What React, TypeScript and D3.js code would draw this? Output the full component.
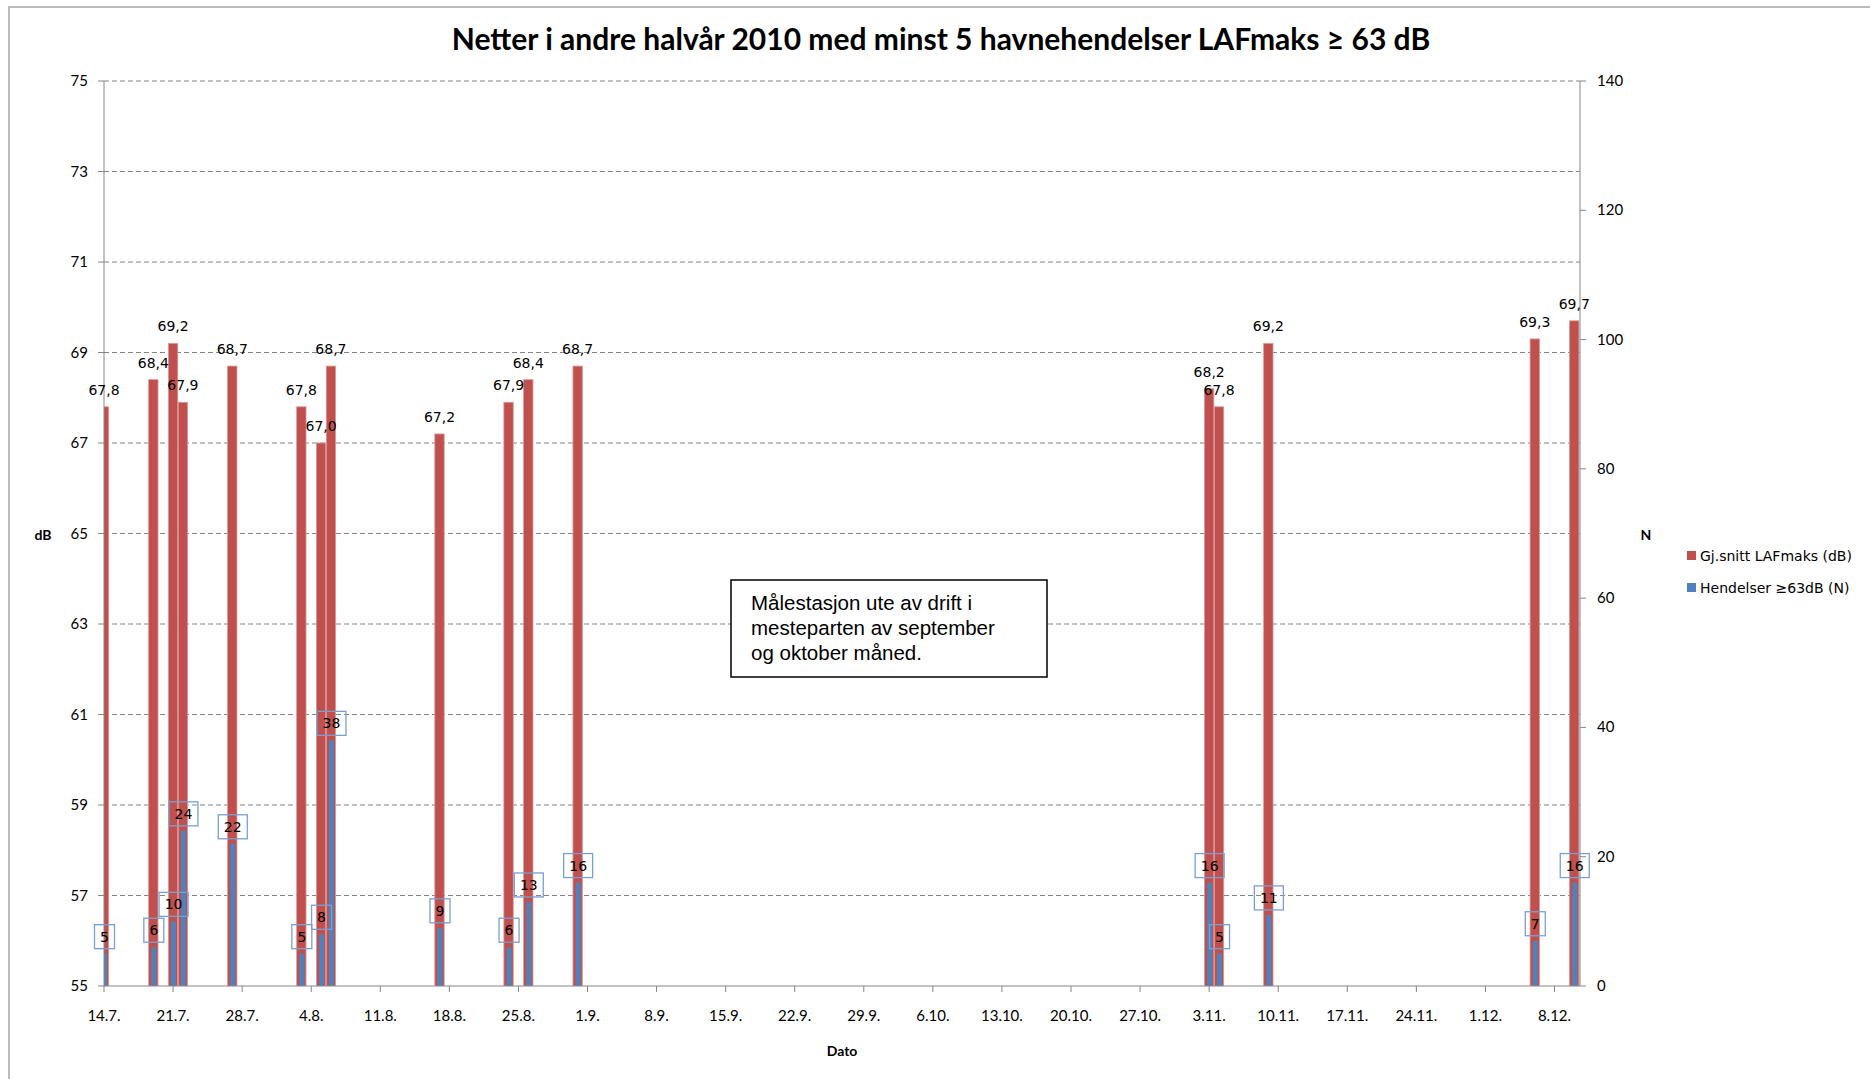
import React from 'react';
import * as d3 from 'd3';

// nights with at least 5 harbour events, second half of 2010
const dates = [
  '14.7.', '19.7.', '21.7.', '22.7.', '27.7.', '3.8.', '5.8.', '6.8.', '17.8.',
  '24.8.', '26.8.', '31.8.', '3.11.', '4.11.', '9.11.', '6.12.', '10.12.',
];
const avgLAFmax = [
  67.8, 68.4, 69.2, 67.9, 68.7, 67.8, 67.0, 68.7, 67.2,
  67.9, 68.4, 68.7, 68.2, 67.8, 69.2, 69.3, 69.7,
];
const events = [5, 6, 10, 24, 22, 5, 8, 38, 9, 6, 13, 16, 16, 5, 11, 7, 16];

const xTickLabels = [
  '14.7.', '21.7.', '28.7.', '4.8.', '11.8.', '18.8.', '25.8.', '1.9.', '8.9.', '15.9.',
  '22.9.', '29.9.', '6.10.', '13.10.', '20.10.', '27.10.', '3.11.', '10.11.', '17.11.',
  '24.11.', '1.12.', '8.12.',
];
const dbTicks = [55, 57, 59, 61, 63, 65, 67, 69, 71, 73, 75];
const nTicks = [0, 20, 40, 60, 80, 100, 120, 140];

const seriesNames = ['Gj.snitt LAFmaks (dB)', 'Hendelser \u226563dB (N)'];
const title = 'Netter i andre halvår 2010 med minst 5 havnehendelser LAFmaks \u2265 63 dB';
const noteLines = ['Målestasjon ute av drift i', 'mesteparten av september', 'og oktober måned.'];

const RED = '#C0504D';
const BLUE = '#4F81BD';
const GRID = '#858585';

const parseDay = d3.utcParse('%d.%m.%Y');
const toDate = (s: string) => parseDay(s.slice(0, -1) + '.2010') as Date;

const comma = d3.formatLocale({ decimal: ',', thousands: ' ', grouping: [3], currency: ['', ''] }).format('.1f');

export default function App() {
  const left = 104, right = 1580, top = 81, bottom = 986;

  const x = d3.scaleUtc()
    .domain([toDate('14.7.'), d3.utcHour.offset(toDate('10.12.'), 14)])
    .range([left, right]);
  const dayW = x(toDate('15.7.')) - x(toDate('14.7.'));
  const redW = dayW * 0.95;
  const blueW = 5;

  const yDb = d3.scaleLinear().domain([55, 75]).range([bottom, top]);
  const yN = d3.scaleLinear().domain([0, 140]).range([bottom, top]);

  const labelFont = '"DejaVu Sans", Verdana, sans-serif';
  const tickFont = 'Lato, "Open Sans", sans-serif';

  return (
    <svg width={1870} height={1079} style={{ position: 'absolute', left: 0, top: 0, background: '#fff' }}>
      <defs>
        <clipPath id="plot">
          <rect x={left} y={0} width={right - left} height={bottom} />
        </clipPath>
      </defs>
      <rect x={9} y={7} width={1900} height={1100} fill="#fff" stroke="#a6a6a6" strokeWidth={1.5} />

      <text x={941} y={50} textAnchor="middle" fontFamily={tickFont} fontWeight="bold" fontSize={30} fill="#000">
        {title}
      </text>

      {/* gridlines */}
      {dbTicks.filter(t => t > 55).map(t => (
        <line key={`g${t}`} x1={left} x2={right} y1={yDb(t)} y2={yDb(t)} stroke={GRID} strokeWidth={1} strokeDasharray="5 3" />
      ))}

      {/* bars */}
      <g clipPath="url(#plot)">
        {dates.map((d, i) => (
          <rect key={`r${i}`} x={x(toDate(d)) - redW / 2} y={yDb(avgLAFmax[i])} width={redW}
            height={bottom - yDb(avgLAFmax[i])} fill={RED} stroke="#d99a98" strokeWidth={0.8} />
        ))}
        {dates.map((d, i) => (
          <rect key={`b${i}`} x={x(toDate(d)) - blueW / 2 + 0.5} y={yN(events[i])} width={blueW}
            height={bottom - yN(events[i])} fill={BLUE} />
        ))}
      </g>

      {/* axes */}
      <line x1={left} x2={right} y1={bottom} y2={bottom} stroke="#868686" />
      <line x1={left} x2={left} y1={top} y2={bottom} stroke="#868686" />
      <line x1={right} x2={right} y1={top} y2={bottom} stroke="#868686" />

      {dbTicks.map(t => (
        <g key={`l${t}`}>
          <line x1={left - 6} x2={left} y1={yDb(t)} y2={yDb(t)} stroke="#868686" />
          <text x={88} y={yDb(t) + 5} textAnchor="end" fontFamily={tickFont} fontSize={15} fill="#000">{t}</text>
        </g>
      ))}
      {nTicks.map(t => (
        <g key={`n${t}`}>
          <line x1={right} x2={right + 6} y1={yN(t)} y2={yN(t)} stroke="#868686" />
          <text x={1597} y={yN(t) + 5} fontFamily={tickFont} fontSize={15} fill="#000">{t}</text>
        </g>
      ))}
      {xTickLabels.map(l => {
        const xp = x(toDate(l));
        return (
          <g key={`x${l}`}>
            <line x1={xp} x2={xp} y1={bottom} y2={bottom + 6} stroke="#868686" />
            <text x={xp} y={1021} textAnchor="middle" fontFamily={tickFont} fontSize={15} fill="#000">{l}</text>
          </g>
        );
      })}

      {/* axis titles */}
      <text x={43} y={540} textAnchor="middle" fontFamily={tickFont} fontWeight="bold" fontSize={14}>dB</text>
      <text x={1646} y={540} textAnchor="middle" fontFamily={tickFont} fontWeight="bold" fontSize={14}>N</text>
      <text x={842} y={1056} textAnchor="middle" fontFamily={tickFont} fontWeight="bold" fontSize={14}>Dato</text>

      {/* data labels */}
      {dates.map((d, i) => (
        <text key={`rl${i}`} x={x(toDate(d))} y={yDb(avgLAFmax[i]) - 12} textAnchor="middle"
          fontFamily={labelFont} fontSize={14} fill="#000">{comma(avgLAFmax[i])}</text>
      ))}
      {dates.map((d, i) => {
        const cx = x(toDate(d)) + 0.5;
        const s = String(events[i]);
        const w = 11 + 9 * s.length;
        const h = 24;
        const yb = yN(events[i]) - 5;
        return (
          <g key={`bl${i}`}>
            <rect x={cx - w / 2} y={yb - h} width={w} height={h} fill="none" stroke="#7a9fd4" strokeWidth={1.3} />
            <text x={cx} y={yb - h / 2 + 5} textAnchor="middle" fontFamily={labelFont} fontSize={14} fill="#000">{s}</text>
          </g>
        );
      })}

      {/* note box */}
      <rect x={731} y={580} width={316} height={97} fill="#fff" stroke="#000" strokeWidth={1.5} />
      {noteLines.map((l, i) => (
        <text key={`note${i}`} x={751} y={610 + i * 25} fontFamily='"Liberation Sans", Arial, sans-serif' fontSize={20.5} fill="#000">{l}</text>
      ))}

      {/* legend */}
      {seriesNames.map((n, i) => (
        <g key={`lg${i}`} transform={`translate(1687, ${556 + i * 32})`}>
          <rect x={0} y={-5} width={9} height={9} fill={i === 0 ? RED : BLUE} />
          <text x={13} y={5} fontFamily={labelFont} fontSize={14} fill="#000">{n}</text>
        </g>
      ))}
    </svg>
  );
}
